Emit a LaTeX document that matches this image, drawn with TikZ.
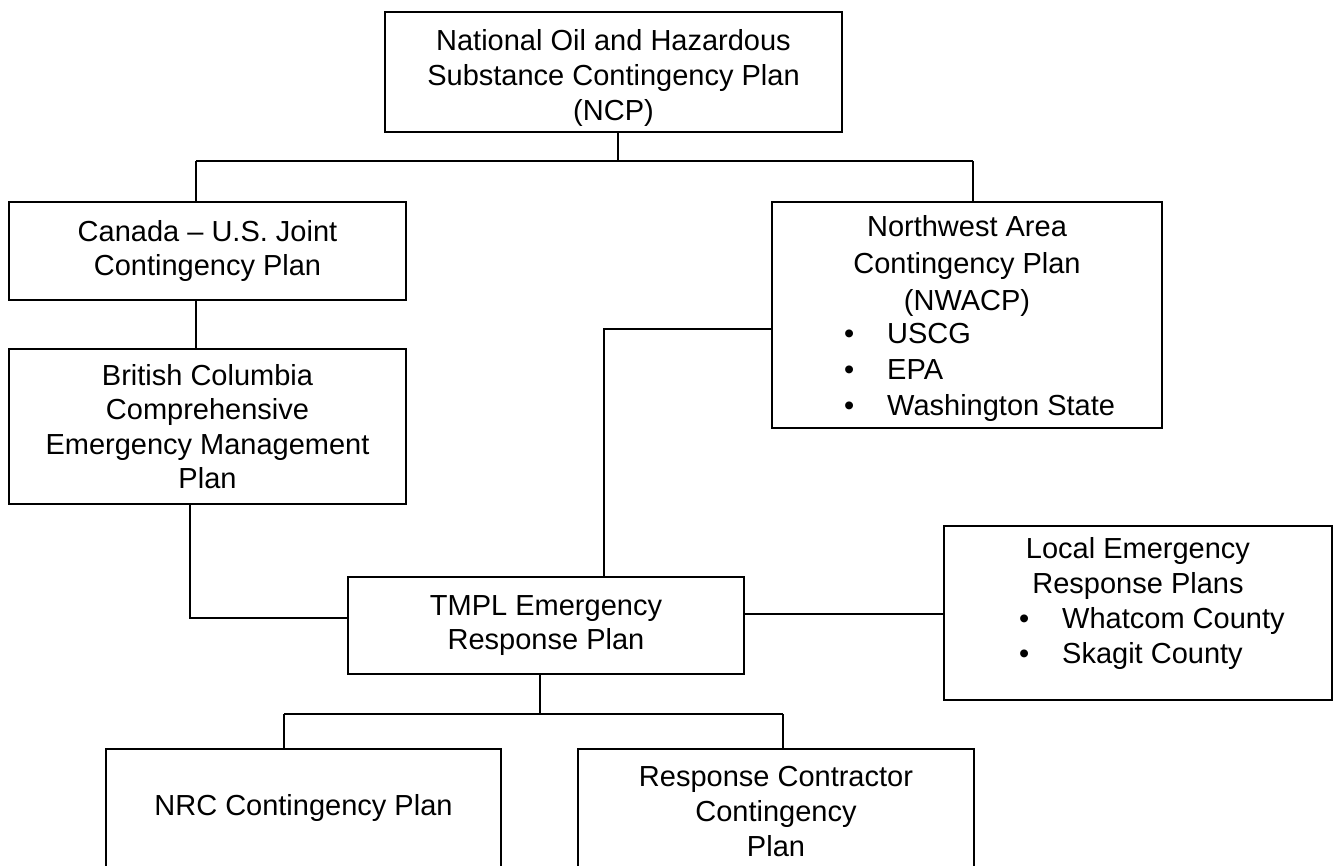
\documentclass[tikz,border=0pt]{standalone}
\usepackage{fontspec}
\setmainfont{Liberation Sans}
\newcommand{\bul}{\makebox[43pt][l]{\textbullet}}

\tikzset{
  plan/.style={draw, line width=2pt, inner sep=0pt, align=center, font=\fontsize{29}{34.5}\selectfont},
  words/.style={align=center, inner sep=0pt, font=\fontsize{29}{35}\selectfont},
  link/.style={line width=2pt}
}

\begin{document}
\begin{tikzpicture}[x=1pt,y=-1pt]
	\useasboundingbox (0,0) rectangle (1335,865);
	% plan boxes
	\node[plan, minimum width=457pt, minimum height=120pt] (ncp) at (613.5,72) {};
	\node[words] (ncpTitle) at (613.5,78) {National Oil and Hazardous\\Substance Contingency Plan\\(NCP)};
	\node[plan, minimum width=397pt, minimum height=98pt] (canada) at (207.5,251) {Canada -- U.S. Joint\\Contingency Plan};
	\node[plan, minimum width=397pt, minimum height=155pt] (bc) at (207.5,426.5) {British Columbia\\Comprehensive\\Emergency Management\\Plan};
	\node[plan, minimum width=390pt, minimum height=226pt] (nwacp) at (967,315) {};
	\node[words, font=\fontsize{29}{37}\selectfont] (nwacpTitle) at (967,266) {Northwest Area\\Contingency Plan\\(NWACP)};
	\node[words, anchor=west, align=left, font=\fontsize{29}{36}\selectfont] (nwacpList) at (844,372) {\bul USCG\\\bul EPA\\\bul Washington State};
	\node[plan, minimum width=396pt, minimum height=97pt] (tmpl) at (546,625.5) {TMPL Emergency\\Response Plan};
	\node[plan, minimum width=388pt, minimum height=174pt] (local) at (1138,613) {};
	\node[words] (localTitle) at (1138,568) {Local Emergency\\Response Plans};
	\node[words, anchor=west, align=left] (localList) at (1019,638) {\bul Whatcom County\\\bul Skagit County};
	\node[plan, minimum width=395pt, minimum height=118pt] (nrc) at (303.5,808) {NRC Contingency Plan};
	\node[plan, minimum width=396pt, minimum height=118pt] (rc) at (776,808) {};
	\node[words] (rcTitle) at (776,812) {Response Contractor\\Contingency\\Plan};

	% connectors
	\coordinate (top) at (618,161);
	\coordinate (topL) at (196,161);
	\coordinate (topR) at (973,161);
	\draw[link] (ncp.south -| top) -- (top);
	\draw[link] (topL) -- (topR);
	\draw[link] (topL) -- (canada.north -| topL);
	\draw[link] (topR) -- (nwacp.north -| topR);
	\draw[link] (canada.south -| topL) -- (bc.north -| topL);
	\coordinate (bcTurn) at (190,618);
	\draw[link] (bc.south -| bcTurn) -- (bcTurn) -- (tmpl.west |- bcTurn);
	\coordinate (nwTurn) at (604,329);
	\draw[link] (nwacp.west |- nwTurn) -- (nwTurn) -- (tmpl.north -| nwTurn);
	\coordinate (side) at (844,614);
	\draw[link] (tmpl.east |- side) -- (local.west |- side);
	\coordinate (low) at (540,714);
	\coordinate (lowL) at (284,714);
	\coordinate (lowR) at (783,714);
	\draw[link] (tmpl.south -| low) -- (low);
	\draw[link] (lowL) -- (lowR);
	\draw[link] (lowL) -- (nrc.north -| lowL);
	\draw[link] (lowR) -- (rc.north -| lowR);
\end{tikzpicture}
\end{document}
